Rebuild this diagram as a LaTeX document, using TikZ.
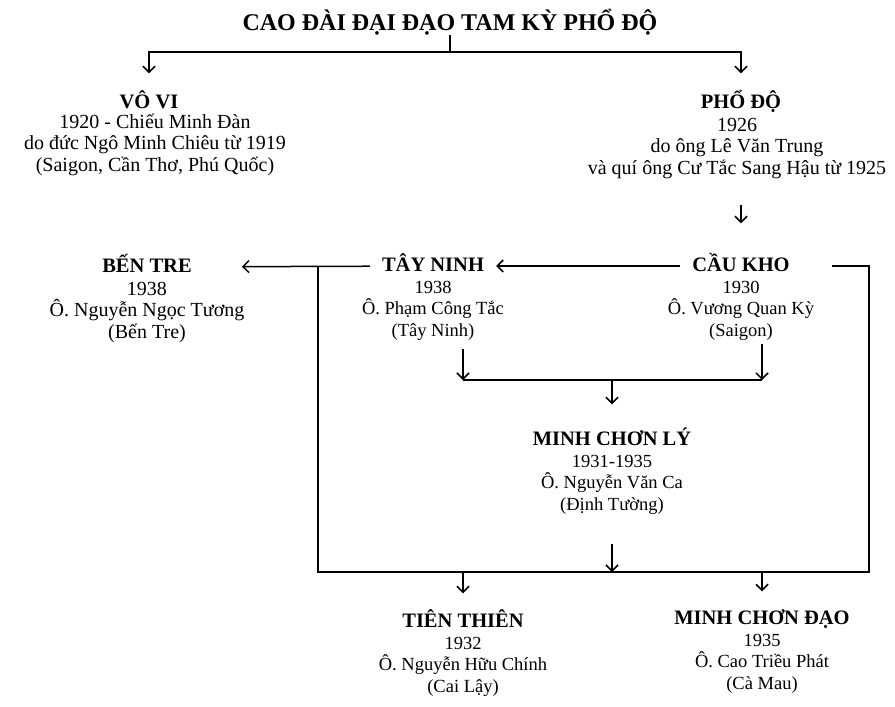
\documentclass[tikz,border=0pt]{standalone}
\usepackage{fontspec}
\setmainfont{Liberation Serif}
\usetikzlibrary{arrows.meta,positioning}

\begin{document}
\begin{tikzpicture}[
    x=1pt, y=-1pt,
    node distance=6pt,
    banner/.style={font=\fontsize{24}{27}\selectfont\bfseries, inner sep=0pt},
    head/.style={font=\fontsize{20.5}{24}\selectfont\bfseries, text height=14pt, text depth=3pt, inner xsep=12pt, inner ysep=0pt},
    info/.style={font=\fontsize{18.5}{21.5}\selectfont, align=center, inner sep=0pt},
    infobig/.style={info, font=\fontsize{20}{21.5}\selectfont},
    link/.style={line width=1.5pt},
    arrow/.style={line width=1.5pt, -{Straight Barb[length=6pt, width=12pt]}}
]
    \useasboundingbox (0,0) rectangle (895,707);

    \node [banner] (title) at (450,22) {CAO ĐÀI ĐẠI ĐẠO TAM KỲ PHỔ ĐỘ};

    \node [head] (vovi-h) at (149,103) {VÔ VI};
    \node [infobig, below=2pt of vovi-h, xshift=6pt] (vovi) {1920 - Chiếu Minh Đàn\\do đức Ngô Minh Chiêu từ 1919\\(Saigon, Cần Thơ, Phú Quốc)};
    \node [head] (phodo-h) at (741,103) {PHỔ ĐỘ};
    \node [infobig, below=of phodo-h, xshift=-4pt] (phodo) {1926\\do ông Lê Văn Trung\\và quí ông Cư Tắc Sang Hậu từ 1925};

    \node [head] (bentre-h) at (147,267) {BẾN TRE};
    \node [infobig, below=of bentre-h] (bentre) {1938\\Ô. Nguyễn Ngọc Tương\\(Bến Tre)};
    \node [head] (tayninh-h) at (433,266) {TÂY NINH};
    \node [info, below=of tayninh-h] (tayninh) {1938\\Ô. Phạm Công Tắc\\(Tây Ninh)};
    \node [head] (caukho-h) at (741,266) {CẦU KHO};
    \node [info, below=of caukho-h] (caukho) {1930\\Ô. Vương Quan Kỳ\\(Saigon)};

    \node [head] (mcl-h) at (612,440) {MINH CHƠN LÝ};
    \node [info, below=of mcl-h] (mcl) {1931-1935\\Ô. Nguyễn Văn Ca\\(Định Tường)};

    \node [head] (tienthien-h) at (463,622) {TIÊN THIÊN};
    \node [info, below=of tienthien-h] (tienthien) {1932\\Ô. Nguyễn Hữu Chính\\(Cai Lậy)};
    \node [head] (mcdao-h) at (762,619) {MINH CHƠN ĐẠO};
    \node [info, below=of mcdao-h] (mcdao) {1935\\Ô. Cao Triều Phát\\(Cà Mau)};

    \coordinate (tj) at (450,52);
    \coordinate (jl) at (463,380);
    \coordinate (jr) at (762,380);
    \coordinate (jm) at (612,380);
    \coordinate (bl) at (318,572);
    \coordinate (br) at (869,572);
    \coordinate (bm) at (612,572);

    \draw [link] (title) -- (tj);
    \draw [arrow, shorten >=21pt] (tj) -| (vovi-h);
    \draw [arrow, shorten >=21pt] (tj) -| (phodo-h);
    \draw [arrow, shorten <=26pt, shorten >=34pt] (phodo-h |- phodo.south) -- (caukho-h);

    \draw [arrow] (caukho-h) -- (tayninh-h);
    \draw [arrow, shorten >=38pt] (tayninh-h) -- (bentre-h);
    \draw [link, shorten <=30pt] (caukho-h) -| (br) -- (bl) -- (bl |- bentre-h);

    \draw [arrow, shorten <=9pt] (tayninh.south -| jl) -- (jl);
    \draw [arrow, shorten <=4pt] (caukho.south -| jr) -- (jr);
    \draw [link] (jl) -- (jr);
    \draw [arrow, shorten >=27pt] (jm) -- (mcl-h);

    \draw [arrow, shorten <=30pt] (mcl) -- (bm);
    \draw [arrow, shorten >=20pt] (bl -| tienthien-h) -- (tienthien-h);
    \draw [arrow, shorten >=19pt] (br -| mcdao-h) -- (mcdao-h);
\end{tikzpicture}
\end{document}
